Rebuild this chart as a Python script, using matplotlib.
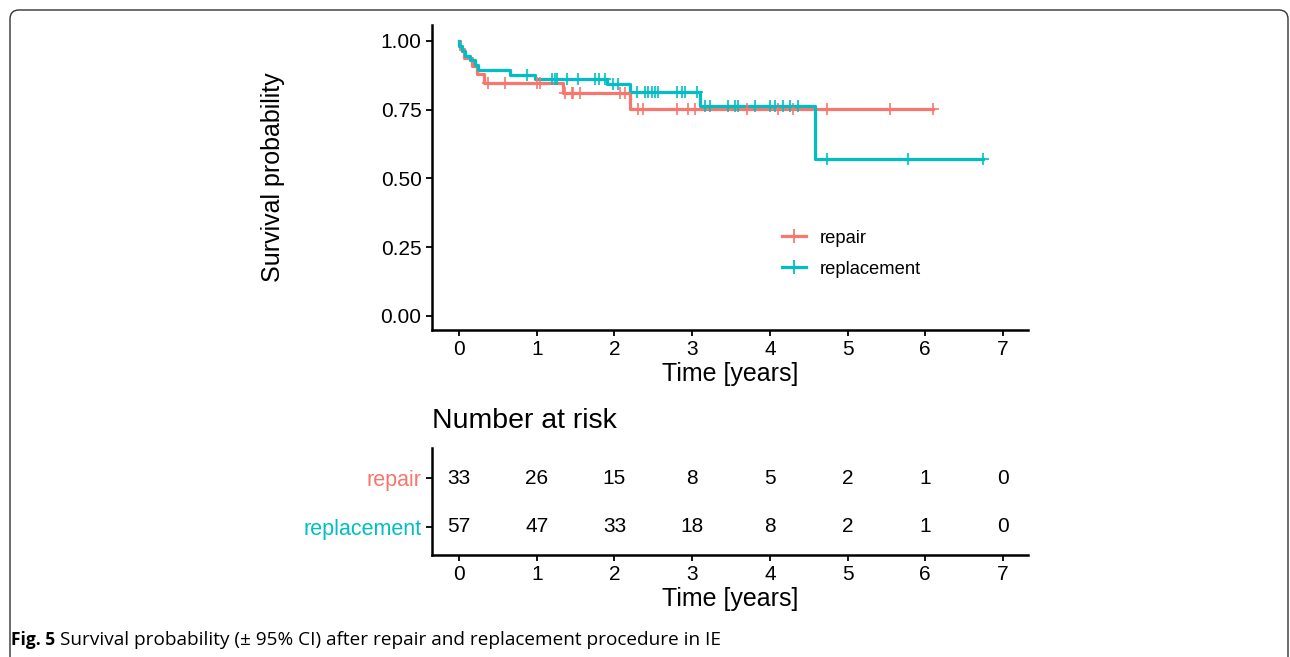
import matplotlib.pyplot as plt
import numpy as np
from matplotlib.patches import FancyBboxPatch
from matplotlib.lines import Line2D

# Kaplan-Meier Daten
groups = ["repair", "replacement"]
colors = ["#F8766D", "#00BFC4"]

repair_t = [0, 0.01, 0.07, 0.17, 0.23, 0.32, 1.34, 2.20, 6.10]
repair_s = [1.0, 0.970, 0.939, 0.909, 0.879, 0.848, 0.810, 0.752, 0.752]
repair_cens = [0.37, 0.59, 1.00, 1.04, 1.36, 1.45, 1.47, 1.56, 2.07, 2.14, 2.30, 2.37,
               2.81, 2.95, 3.04, 3.71, 4.10, 4.30, 4.74, 5.55, 6.10]

repl_t = [0, 0.005, 0.04, 0.08, 0.14, 0.20, 0.25, 0.66, 0.98, 1.90, 2.20, 3.10, 4.58, 6.74]
repl_s = [1.0, 0.982, 0.965, 0.947, 0.930, 0.912, 0.895, 0.877, 0.860, 0.842, 0.814,
          0.763, 0.572, 0.572]
repl_cens = [0.875, 1.20, 1.24, 1.26, 1.39, 1.53, 1.75, 1.80, 1.88, 1.98, 2.05, 2.29,
             2.39, 2.43, 2.48, 2.52, 2.56, 2.81, 2.87, 2.91, 3.06, 3.17, 3.23, 3.46,
             3.55, 3.59, 3.81, 4.00, 4.07, 4.17, 4.26, 4.36, 4.74, 5.78, 6.74]

risk_times = [0, 1, 2, 3, 4, 5, 6, 7]
risk_repair = [33, 26, 15, 8, 5, 2, 1, 0]
risk_repl = [57, 47, 33, 18, 8, 2, 1, 0]

plt.rcParams["font.family"] = ["Liberation Sans", "DejaVu Sans"]

W, H = 1290, 657
fig = plt.figure(figsize=(W / 100, H / 100), dpi=100)

# Rahmen (unten abgeschnitten)
frame = FancyBboxPatch((10, -100), 1278, H - 10 + 100, boxstyle="round,pad=0,rounding_size=9",
                       transform=None, fill=False, edgecolor="#333333", lw=1.0)
fig.patches.append(frame)

def fx(px):
    return px / W

def fy(py):
    return 1 - py / H

ax = fig.add_axes([fx(432), fy(330), fx(1028 - 432), (330 - 25) / H])
tab = fig.add_axes([fx(432), fy(555), fx(1028 - 432), (555 - 448) / H])

xmin = (432 - 459) / 77.71
xmax = (1028 - 459) / 77.71

def surv_at(times, surv, t):
    idx = np.searchsorted(times, t, side="right") - 1
    return np.array(surv)[idx]

curves = [(repair_t, repair_s, repair_cens), (repl_t, repl_s, repl_cens)]
for (t, s, c), col in zip(curves, colors):
    ax.step(t, s, where="post", color=col, lw=2.3, zorder=3)
    ax.plot(c, surv_at(t, s, c), ls="none", marker="+", ms=9, mew=1.2,
            color=col, zorder=4)

ax.set_xlim(xmin, xmax)
ax.set_ylim(-0.051, 1.058)
ax.set_xticks(risk_times)
ax.set_yticks([0, 0.25, 0.5, 0.75, 1.0])
ax.set_yticklabels(["0.00", "0.25", "0.50", "0.75", "1.00"])
ax.set_xlabel("Time [years]", fontsize=18, labelpad=2)
ax.set_ylabel("Survival probability", fontsize=18)
ax.yaxis.set_label_coords((285 - 432) / (1028 - 432), 0.5)

handles = [Line2D([0], [0], color=col, lw=2.3, marker="+", ms=10, mew=1.3)
           for col in colors]
ax.legend(handles, groups, loc="center left", bbox_to_anchor=(0.56, 0.25),
          frameon=False, fontsize=13.2, handlelength=1.3, labelspacing=0.75,
          handletextpad=0.75, numpoints=1)

# Risiko-Tabelle
tab.set_xlim(xmin, xmax)
tab.set_ylim(1 - 28 / 49, 2 + 30 / 49)
for x, a, b in zip(risk_times, risk_repair, risk_repl):
    tab.text(x, 2, str(a), ha="center", va="center", fontsize=15)
    tab.text(x, 1, str(b), ha="center", va="center", fontsize=15)
tab.set_xticks(risk_times)
tab.set_yticks([2, 1])
tab.set_yticklabels(groups)
tab.set_xlabel("Time [years]", fontsize=18, labelpad=2)
fig.text(fx(432), fy(421), "Number at risk", fontsize=20.5, va="center", ha="left")

for a in (ax, tab):
    for sp in ("top", "right"):
        a.spines[sp].set_visible(False)
    for sp in ("left", "bottom"):
        a.spines[sp].set_linewidth(1.8)
    a.tick_params(length=4.5, width=1.3, labelsize=15, pad=3)

tab.tick_params(axis="y", labelsize=15.5)
for lbl, col in zip(tab.get_yticklabels(), colors):
    lbl.set_color(col)

# Bildunterschrift
fig.text(fx(11), fy(640), "Fig. 5", fontsize=12.5, fontweight="bold",
         family=["Open Sans", "DejaVu Sans"], va="center", ha="left")
fig.text(fx(60), fy(640), "Survival probability (\u00b1 95% CI) after repair and replacement procedure in IE",
         fontsize=13.7, family=["Open Sans", "DejaVu Sans"], va="center", ha="left")

fig.savefig("out.png", dpi=100)
